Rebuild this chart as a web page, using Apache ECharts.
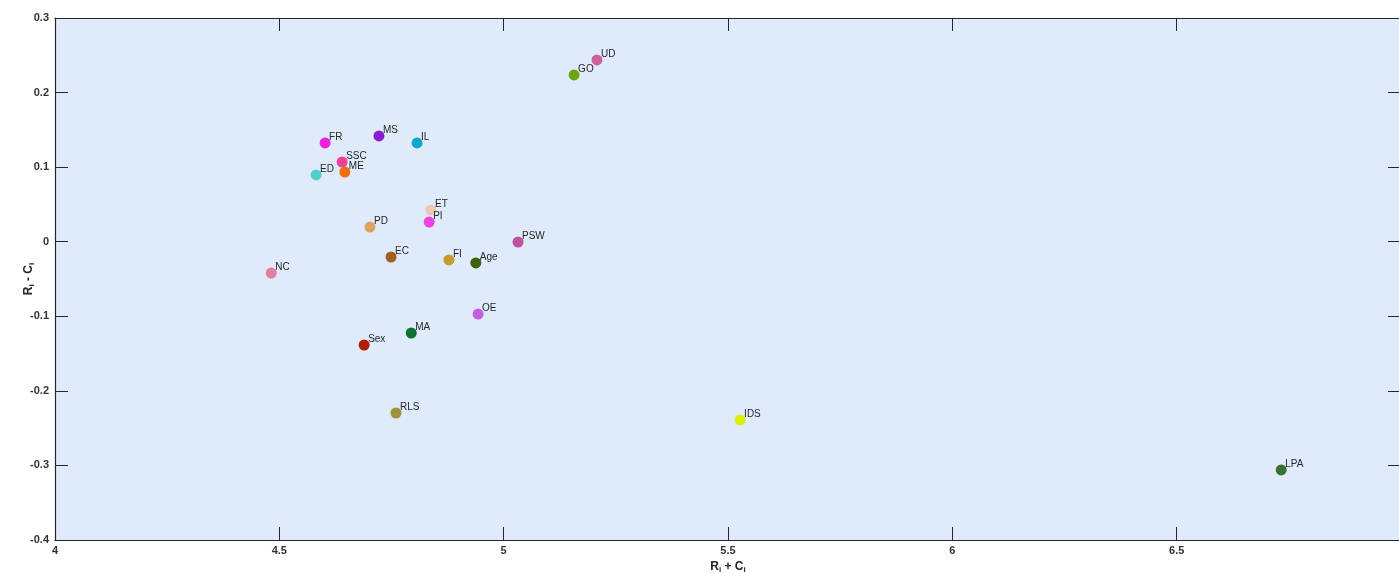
<!DOCTYPE html>
<html>
<head>
<meta charset="utf-8">
<style>html,body{margin:0;padding:0;background:#fff;}#c{width:1399px;height:573px;}</style>
<script src="https://cdn.jsdelivr.net/npm/echarts@6/dist/echarts.min.js"></script>
</head>
<body>
<div id="c"></div>
<script>
const names = ['UD','GO','FR','MS','IL','SSC','ME','ED','ET','PI','PD','EC','FI','Age','PSW','NC','OE','MA','Sex','RLS','IDS','LPA'];
const xVals = [5.208,5.157,4.602,4.722,4.807,4.640,4.646,4.582,4.838,4.834,4.702,4.749,4.878,4.938,5.032,4.482,4.943,4.794,4.689,4.760,5.527,6.733];
const yVals = [0.2437,0.2236,0.1324,0.1418,0.1324,0.1069,0.0935,0.0895,0.0425,0.0264,0.0197,-0.0205,-0.0245,-0.0285,-0.0004,-0.042,-0.097,-0.1224,-0.1385,-0.2297,-0.239,-0.306];
const colors = ['#d0609a','#6aa314','#f020e0','#8a1fd0','#10a8c8','#f0409a','#f07010','#50d0c8','#ecc8b8','#f040e8','#e0a060','#a06020','#c89a30','#3a6010','#c050a0','#e080a0','#c060e0','#107030','#b02000','#a09040','#d8f000','#3a7030'];
const xTicks = [4,4.5,5,5.5,6,6.5];
const yTicks = [0.3,0.2,0.1,0,-0.1,-0.2,-0.3,-0.4];

const chart = echarts.init(document.getElementById('c'));
const tickStyle = {show:true, inside:true, length:13, lineStyle:{color:'#262626', width:1}};
const lineStyle = {show:true, onZero:false, lineStyle:{color:'#262626', width:1.2}};
const lblStyle = {color:'#333', fontSize:11, fontWeight:'bold', fontFamily:'Liberation Sans, Arial, sans-serif'};
const FF = 'Liberation Sans, Arial, sans-serif';
const nameRich = {rich:{b:{fontSize:12,fontWeight:'bold',color:'#262626',fontFamily:FF}, s:{fontSize:8,fontWeight:'bold',color:'#262626',verticalAlign:'bottom',padding:[6,0,0,0],fontFamily:FF}}};
const data = names.map((n,i)=>({value:[xVals[i], yVals[i]], name:n, itemStyle:{color:colors[i], opacity:1}}));
chart.setOption({
  animation:false,
  grid:{left:55, top:18, width:1346, height:522, show:true, backgroundColor:'#dfeafa', borderWidth:0, containLabel:false, outerBoundsMode:'none'},
  xAxis:[
    {type:'value', min:4, max:7, interval:0.5, position:'bottom',
     axisLine:lineStyle, axisTick:tickStyle, splitLine:{show:false},
     axisLabel:Object.assign({}, lblStyle, {margin:5, formatter:v=> xTicks.indexOf(v)>=0 ? String(v) : ''}),
     name:'{b|R}{s|i}{b| + C}{s|i}', nameLocation:'middle', nameGap:19, nameTextStyle:nameRich},
    {type:'value', min:4, max:7, interval:0.5, position:'top',
     axisLine:lineStyle, axisTick:tickStyle, splitLine:{show:false}, axisLabel:{show:false}}
  ],
  yAxis:[
    {type:'value', min:-0.4, max:0.3, interval:0.1, position:'left',
     axisLine:lineStyle, axisTick:tickStyle, splitLine:{show:false},
     axisLabel:Object.assign({}, lblStyle, {margin:6, formatter:v=>{const r=Math.round(v*10)/10; return yTicks.indexOf(r)>=0 ? String(r) : '';}}),
     name:'{b|R}{s|i}{b| - C}{s|i}', nameLocation:'middle', nameGap:19, nameRotate:90, nameMoveOverlap:false, nameTextStyle:nameRich},
    {type:'value', min:-0.4, max:0.3, interval:0.1, position:'right',
     axisLine:lineStyle, axisTick:tickStyle, splitLine:{show:false}, axisLabel:{show:false}}
  ],
  series:[{
    type:'scatter', symbol:'circle', symbolSize:11, data:data,
    label:{show:true, position:'inside', align:'left', verticalAlign:'middle', offset:[4,-6],
      formatter:p=>p.name, color:'#262626', fontSize:10, fontFamily:FF},
    emphasis:{disabled:true}
  }]
});
</script>
</body>
</html>
